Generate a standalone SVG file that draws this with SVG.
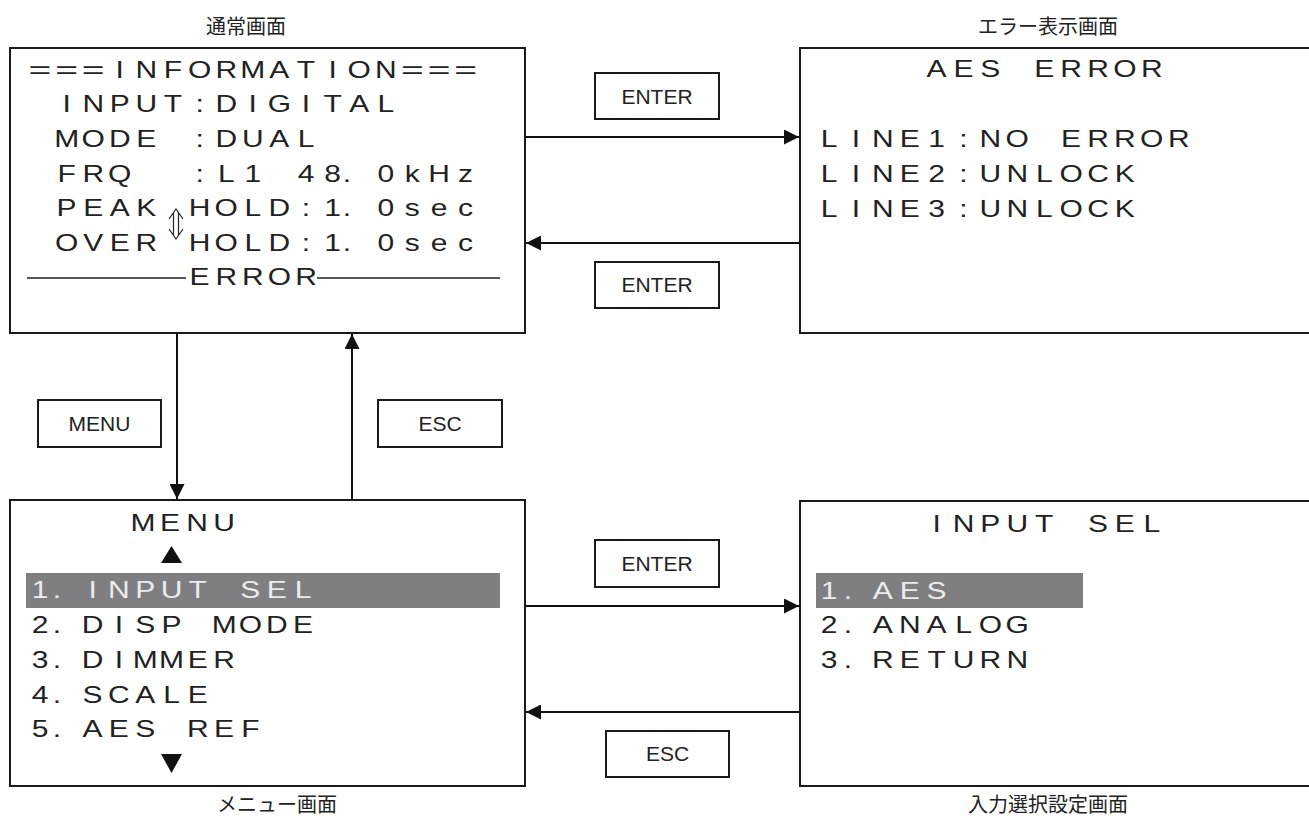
<svg xmlns="http://www.w3.org/2000/svg" width="1309" height="819" viewBox="0 0 1309 819">
<style>
.scr{fill:#fff;stroke:#1a1a1a;stroke-width:2}
.key{fill:#fff;stroke:#1a1a1a;stroke-width:2}
.t{font-family:"Liberation Sans",Arial,sans-serif;font-size:24px;fill:#222;text-anchor:middle}
.hl{fill:#ececec}
.bar{fill:#7f7f81}
.k{font-family:"Liberation Sans",Arial,sans-serif;font-size:21px;fill:#222;text-anchor:middle}
.jp{font-family:"Noto Sans CJK JP",sans-serif;font-size:20px;fill:#222;text-anchor:middle}
.conn{stroke:#111;stroke-width:2;fill:none;marker-end:url(#ah)}
</style>
<defs>
<marker id="ah" markerWidth="16" markerHeight="15" refX="15" refY="7.5" orient="auto" markerUnits="userSpaceOnUse">
<path d="M0,0 L15,7.5 L0,15 z" fill="#111"/>
</marker>
</defs>

<g id="title-normal"><text class="jp" x="246" y="34">通常画面</text></g>
<g id="title-error"><text class="jp" x="1048" y="34">エラー表示画面</text></g>
<g id="title-menu"><text class="jp" x="277" y="812">メニュー画面</text></g>
<g id="title-input"><text class="jp" x="1048" y="812">入力選択設定画面</text></g>

<g id="normal-screen">
<rect class="scr" x="10" y="48" width="515" height="285"/>
<g transform="scale(1.25,1)">
<text class="t" x="24.6 41 57.4" y="78" transform="scale(1.3,1)">===</text>
<text class="t" x="95.8 117.1 138.4 159.7 181 202.2 223.5 244.8 266.1 287.4 308.6" y="78">INFORMATION</text>
<text class="t" x="253.8 270.2 286.5" y="78" transform="scale(1.3,1)">===</text>
<text class="t" x="53.3 74.6 95.8 117.1 138.4 159.7 181 202.2 223.5 244.8 266.1 287.4 308.6" y="112.5">INPUT:DIGITAL</text>
<text class="t" x="53.3 74.6 95.8 117.1" y="147">MODE</text>
<text class="t" x="159.7 181 202.2 223.5 244.8" y="147">:DUAL</text>
<text class="t" x="53.3 74.6 95.8" y="182">FRQ</text>
<text class="t" x="159.7 181 202.2" y="182">:L1</text>
<text class="t" x="244.8 266.1 277.6 308.6 329.9 351.2 372.5" y="182">48.0kHz</text>
<text class="t" x="53.3 74.6 95.8 117.1" y="216.5">PEAK</text>
<text class="t" x="159.7 181 202.2 223.5 244.8 266.1 277.6 308.6 329.9 351.2 372.5" y="216.5">HOLD:1.0sec</text>
<text class="t" x="53.3 74.6 95.8 117.1" y="251">OVER</text>
<text class="t" x="159.7 181 202.2 223.5 244.8 266.1 277.6 308.6 329.9 351.2 372.5" y="251">HOLD:1.0sec</text>
<text class="t" x="159.7 181 202.2 223.5 244.8" y="285.5">ERROR</text>
</g>
<path d="M27,278 H186 M317,278 H500" stroke="#222" stroke-width="1.5" fill="none"/>
<path d="M169,219 L176,209 L183,219 M173.5,212.6 V235.4 M178.5,212.6 V235.4 M169,229 L176,239 L183,229" stroke="#222" stroke-width="1.2" fill="none"/>
</g>

<g id="error-screen">
<rect class="scr" x="800" y="48" width="520" height="285"/>
<g transform="scale(1.25,1)">
<text class="t" x="749.3 770.8 792.3" y="77">AES</text>
<text class="t" x="835.4 856.9 878.4 899.9 921.4" y="77">ERROR</text>
<text class="t" x="663.2 684.7 706.2 727.8 749.3 770.8 792.3 813.8" y="147">LINE1:NO</text>
<text class="t" x="856.9 878.4 899.9 921.4 943" y="147">ERROR</text>
<text class="t" x="663.2 684.7 706.2 727.8 749.3 770.8 792.3 813.8 835.4 856.9 878.4 899.9" y="182">LINE2:UNLOCK</text>
<text class="t" x="663.2 684.7 706.2 727.8 749.3 770.8 792.3 813.8 835.4 856.9 878.4 899.9" y="217">LINE3:UNLOCK</text>
</g>
</g>

<g id="menu-screen">
<rect class="scr" x="10" y="500" width="515" height="286"/>
<rect class="bar" x="26" y="573" width="474" height="35"/>
<polygon points="161,563 182,563 171.5,546" fill="#111"/>
<polygon points="161,754 182,754 171.5,773" fill="#111"/>
<g transform="scale(1.25,1)">
<text class="t" x="114.4 136 157.6 179.2" y="531">MENU</text>
<text class="t hl" x="32 45.6" y="598">1.</text>
<text class="t hl" x="74.1 95.1 116.2 137.2 158.2" y="598">INPUT</text>
<text class="t hl" x="200.3 221.4 242.4" y="598">SEL</text>
<text class="t" x="32 45.6" y="633">2.</text>
<text class="t" x="74.1 95.1 116.2 137.2" y="633">DISP</text>
<text class="t" x="179.3 200.3 221.4 242.4" y="633">MODE</text>
<text class="t" x="32 45.6" y="668">3.</text>
<text class="t" x="74.1 95.1 116.2 137.2 158.2 179.3" y="668">DIMMER</text>
<text class="t" x="32 45.6" y="703">4.</text>
<text class="t" x="74.1 95.1 116.2 137.2 158.2" y="703">SCALE</text>
<text class="t" x="32 45.6" y="737">5.</text>
<text class="t" x="74.1 95.1 116.2" y="737">AES</text>
<text class="t" x="158.2 179.3 200.3" y="737">REF</text>
</g>
</g>

<g id="input-sel-screen">
<rect class="scr" x="800" y="501" width="520" height="285"/>
<rect class="bar" x="816" y="573" width="267" height="35"/>
<g transform="scale(1.25,1)">
<text class="t" x="749.3 770.8 792.3 813.8 835.4" y="532">INPUT</text>
<text class="t" x="878.4 899.9 921.4" y="532">SEL</text>
<text class="t hl" x="663.2 678.4" y="599">1.</text>
<text class="t hl" x="706.2 727.8 749.3" y="599">AES</text>
<text class="t" x="663.2 678.4" y="633">2.</text>
<text class="t" x="706.2 727.8 749.3 770.8 792.3 813.8" y="633">ANALOG</text>
<text class="t" x="663.2 678.4" y="668">3.</text>
<text class="t" x="706.2 727.8 749.3 770.8 792.3 813.8" y="668">RETURN</text>
</g>
</g>

<g id="connectors">
<line class="conn" x1="525" y1="137" x2="799" y2="137"/>
<line class="conn" x1="800" y1="243" x2="526" y2="243"/>
<line class="conn" x1="525" y1="606" x2="799" y2="606"/>
<line class="conn" x1="800" y1="712" x2="526" y2="712"/>
<line class="conn" x1="177" y1="333" x2="177" y2="499"/>
<line class="conn" x1="352" y1="500" x2="352" y2="334"/>
</g>

<g id="key-enter-1"><rect class="key" x="595" y="73" width="124" height="46"/><text class="k" x="657" y="104">ENTER</text></g>
<g id="key-enter-2"><rect class="key" x="595" y="262" width="124" height="46"/><text class="k" x="657" y="292">ENTER</text></g>
<g id="key-enter-3"><rect class="key" x="595" y="540" width="124" height="47"/><text class="k" x="657" y="571">ENTER</text></g>
<g id="key-esc-2"><rect class="key" x="606" y="731" width="123" height="46"/><text class="k" x="667.5" y="761">ESC</text></g>
<g id="key-menu"><rect class="key" x="38" y="400" width="123" height="47"/><text class="k" x="99.5" y="431">MENU</text></g>
<g id="key-esc-1"><rect class="key" x="378" y="400" width="124" height="47"/><text class="k" x="440" y="431">ESC</text></g>
</svg>
